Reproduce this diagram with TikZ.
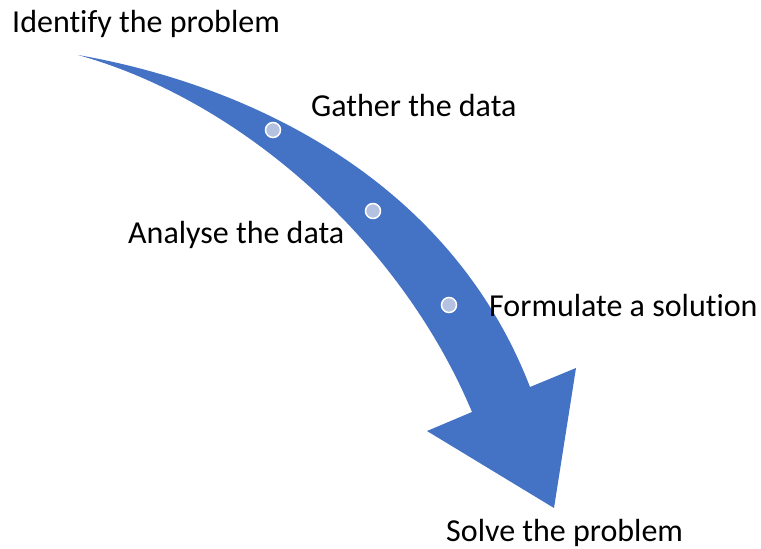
\documentclass[tikz,border=0pt]{standalone}
\usepackage{fontspec}
\setmainfont{Carlito}[Ligatures=NoCommon]
\usetikzlibrary{positioning}
\definecolor{arrowblue}{RGB}{68,114,196}
\definecolor{dotblue}{RGB}{180,193,224}

\begin{document}
\begin{tikzpicture}[x=1pt,y=-1pt,
   step label/.style={anchor=base west,inner sep=0pt,font=\fontsize{32}{38}\selectfont},
   milestone/.style={circle,fill=dotblue,draw=white,line width=1.5pt,minimum size=15pt,inner sep=0pt}]
   \useasboundingbox (0,0) rectangle (761,549);
   % the curved arrow
   \fill[arrowblue] (78,55) .. controls (250,85) and (450,180) .. (530,387)
      -- (576,368) -- (554,508) -- (427,431) -- (472,412)
      .. controls (400,240) and (240,100) .. (78,55) -- cycle;
   \node [milestone] (m1) at (273,130) {};
   \node [milestone] (m2) at (373,211) {};
   \node [milestone] (m3) at (449,305) {};
   % the labels
   \node [step label] (identify) at (12,32) {Identify the problem};
   \node [step label] (gather) at (311,116) {Gather the data};
   \node [step label] (analyse) at (128,243) {Analyse the data};
   \node [step label] (formulate) at (489,316) {Formulate a solution};
   \node [step label] (solve) at (446,541) {Solve the problem};
\end{tikzpicture}
\end{document}
